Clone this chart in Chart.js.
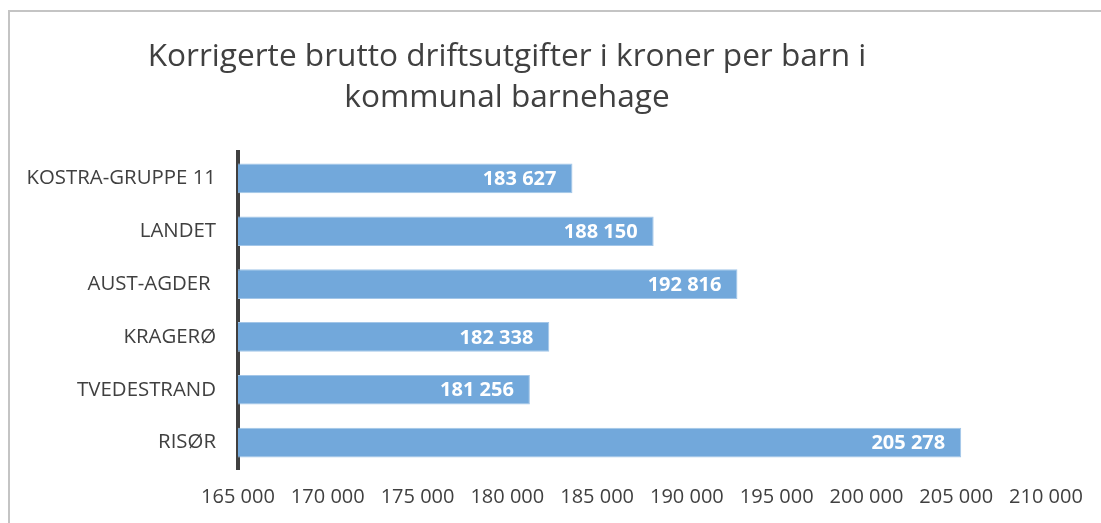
<!DOCTYPE html>
<html><head><meta charset="utf-8">
<script src="https://cdn.jsdelivr.net/npm/chart.js@4.4.0/dist/chart.umd.min.js"></script>
<style>html,body{margin:0;padding:0;background:#fff;overflow:hidden}#wrap{position:relative;width:1101px;height:523px}</style>
</head><body><div id="wrap"><canvas id="c" width="1101" height="523"></canvas></div>
<script>
const categories = ['KOSTRA-GRUPPE 11', 'LANDET', 'AUST-AGDER ', 'KRAGERØ', 'TVEDESTRAND', 'RISØR'];
const values = [183627, 188150, 192816, 182338, 181256, 205278];
const tickValues = [165000, 170000, 175000, 180000, 185000, 190000, 195000, 200000, 205000, 210000];
const titleLines = ['Korrigerte brutto driftsutgifter i kroner per barn i', 'kommunal barnehage'];

function fmt(v) { return String(Math.round(v)).replace(/\B(?=(\d{3})+(?!\d))/g, ' '); }

const FONT = '"Open Sans", "DejaVu Sans", sans-serif';
const TEXT = '#404040';

const frame = {
  id: 'frame',
  beforeDraw(chart) {
    const ctx = chart.ctx;
    ctx.save();
    ctx.fillStyle = '#fff';
    ctx.fillRect(0, 0, chart.width, chart.height);
    ctx.strokeStyle = '#c4c4c4';
    ctx.lineWidth = 2;
    ctx.beginPath();
    ctx.moveTo(9, chart.height);
    ctx.lineTo(9, 11);
    ctx.lineTo(chart.width, 11);
    ctx.stroke();
    ctx.restore();
  }
};

const titlePlugin = {
  id: 'titleLines',
  afterDraw(chart) {
    const ctx = chart.ctx;
    ctx.save();
    ctx.fillStyle = TEXT;
    ctx.font = '31.6px ' + FONT;
    ctx.textAlign = 'center';
    ctx.textBaseline = 'alphabetic';
    ctx.fillText(titleLines[0], 507, 66);
    ctx.fillText(titleLines[1], 507, 107);
    ctx.restore();
  }
};

const valueLabels = {
  id: 'valueLabels',
  afterDatasetsDraw(chart) {
    const ctx = chart.ctx;
    const meta = chart.getDatasetMeta(0);
    ctx.save();
    ctx.fillStyle = '#ffffff';
    ctx.font = 'bold 20px ' + FONT;
    ctx.textAlign = 'right';
    ctx.textBaseline = 'middle';
    meta.data.forEach((bar, i) => {
      ctx.fillText(fmt(values[i]), bar.x - 16, bar.y + 1);
    });
    ctx.restore();
  }
};

new Chart(document.getElementById('c'), {
  type: 'bar',
  data: {
    labels: categories,
    datasets: [{
      data: values,
      backgroundColor: '#72a8db',
      borderColor: '#a3c6e8',
      borderWidth: 1,
      categoryPercentage: 1,
      barPercentage: 0.56
    }]
  },
  options: {
    indexAxis: 'y',
    responsive: false,
    animation: false,
    devicePixelRatio: 1,
    layout: { padding: { top: 152, right: 55, left: 0, bottom: 0 } },
    plugins: { legend: { display: false }, tooltip: { enabled: false }, title: { display: false } },
    scales: {
      x: {
        min: 165000, max: 210000,
        afterFit(s) { s.height = 54; },
        afterBuildTicks(s) { s.ticks = tickValues.map(v => ({ value: v })); },
        grid: { display: false, drawTicks: false },
        border: { display: false },
        ticks: { color: TEXT, font: { family: FONT, size: 20 }, padding: 16, maxRotation: 0, autoSkip: false, callback: v => fmt(v) }
      },
      y: {
        afterFit(s) { s.width = 238; },
        grid: { display: false, drawTicks: false },
        border: { display: true, color: '#404040', width: 4 },
        ticks: { color: TEXT, font: { family: FONT, size: 20.4 }, padding: 22, autoSkip: false }
      }
    }
  },
  plugins: [frame, valueLabels, titlePlugin]
});
</script></body></html>
